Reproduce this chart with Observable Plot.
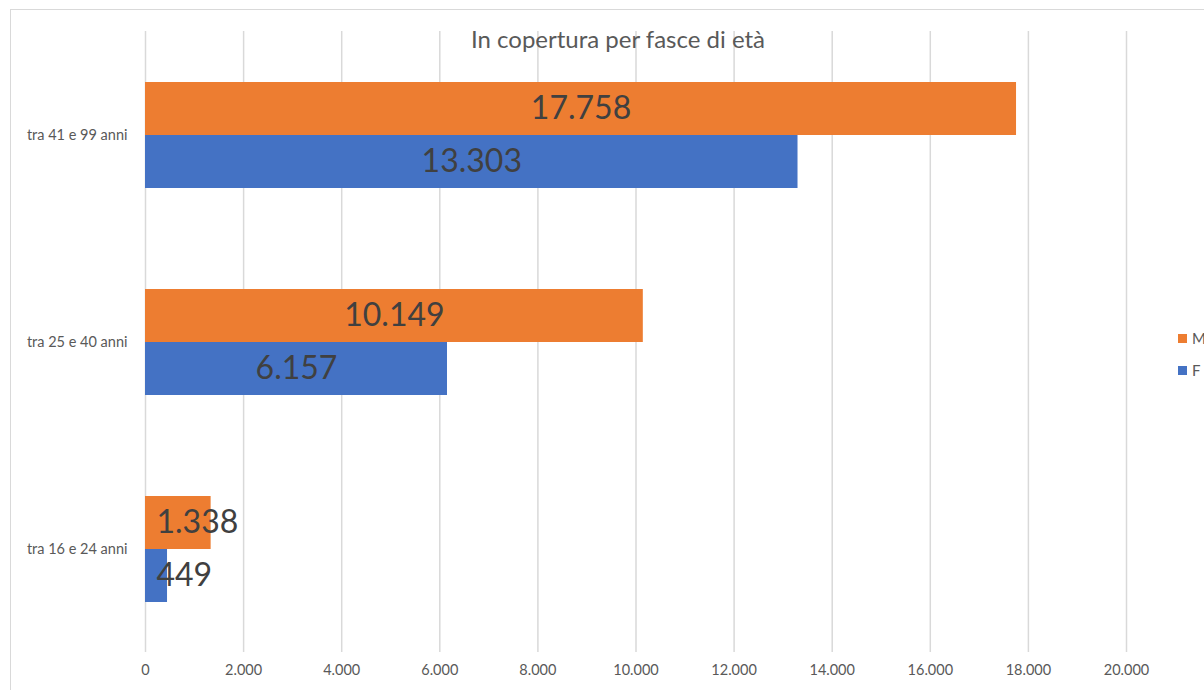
<!DOCTYPE html>
<html>
<head>
<meta charset="utf-8">
<script src="https://cdn.jsdelivr.net/npm/d3@7"></script>
<script src="https://cdn.jsdelivr.net/npm/@observablehq/plot@0.6"></script>
<style>
  html, body { margin: 0; padding: 0; background: #fff; overflow: hidden; }
  #wrap { position: relative; width: 1204px; height: 690px; font-family: Lato, "Open Sans", sans-serif; }
  #frame { position: absolute; left: 10px; top: 9px; width: 1300px; height: 800px; border-left: 1.5px solid #d9d9d9; border-top: 1.5px solid #d9d9d9; box-sizing: border-box; }
  #title { position: absolute; left: 0; width: 1236px; top: 25px; text-align: center; font-size: 24px; line-height: 28px; color: #595959; white-space: nowrap; }
  #legend { position: absolute; left: 1178px; top: 322px; font-size: 15px; color: #595959; }
  .li { display: flex; align-items: center; height: 32px; }
  .sw { width: 9px; height: 9px; margin-right: 5px; }
  #chart { position: absolute; left: 0; top: 0; }
</style>
</head>
<body>
<div id="wrap">
  <div id="chart"></div>
  <div id="frame"></div>
  <div id="title">In copertura per fasce di età</div>
  <div id="legend"></div>
</div>
<script>
const categories = ["tra 41 e 99 anni", "tra 25 e 40 anni", "tra 16 e 24 anni"];
const series = ["M", "F"];
const valuesM = [17758, 10149, 1338];
const valuesF = [13303, 6157, 449];
const xTicks = [0, 2000, 4000, 6000, 8000, 10000, 12000, 14000, 16000, 18000, 20000];
const colors = {M: "#ED7D31", F: "#4472C4"};

const it = d3.formatLocale({decimal: ",", thousands: ".", grouping: [3], currency: ["€", ""]});
const fmt = it.format(",");

const data = [];
categories.forEach((c, i) => {
  data.push({cat: c, sex: "M", value: valuesM[i]});
  data.push({cat: c, sex: "F", value: valuesF[i]});
});

const chart = Plot.plot({
  width: 1204,
  height: 690,
  marginLeft: 145,
  marginRight: 78,
  marginTop: 30,
  marginBottom: 37,
  style: {fontFamily: "Lato, 'Open Sans', sans-serif", fontSize: "14.5px", color: "#595959", background: "transparent"},
  x: {domain: [0, 20000], label: null},
  y: {domain: series, paddingInner: 0, paddingOuter: 0.93, axis: null},
  fy: {domain: categories, padding: 0, axis: null, label: null},
  color: {domain: series, range: series.map(s => colors[s])},
  marks: [
    Plot.gridX(xTicks, {stroke: "#d9d9d9", strokeOpacity: 1, strokeWidth: 1.5}),
    Plot.axisX(xTicks, {tickFormat: fmt, tickSize: 0, tickPadding: 12, fontSize: 14.5, fill: "#595959", label: null}),
    Plot.axisFy({anchor: "left", tickSize: 0, tickPadding: 18, fontSize: 14.5, fill: "#595959", label: null}),
    Plot.barX(data, {fy: "cat", y: "sex", x: "value", fill: "sex"}),
    Plot.text(data.filter(d => d.value >= 3000), {fy: "cat", y: "sex", x: d => d.value / 2, text: d => fmt(d.value), fontSize: 32, fill: "#404040", textAnchor: "middle"}),
    Plot.text(data.filter(d => d.value < 3000), {fy: "cat", y: "sex", x: 0, dx: 11, text: d => fmt(d.value), fontSize: 32, fill: "#404040", textAnchor: "start"})
  ]
});
document.getElementById("chart").appendChild(chart);

const legend = document.getElementById("legend");
series.forEach(s => {
  const row = document.createElement("div");
  row.className = "li";
  const sw = document.createElement("div");
  sw.className = "sw";
  sw.style.background = colors[s];
  const t = document.createElement("span");
  t.textContent = s;
  row.appendChild(sw);
  row.appendChild(t);
  legend.appendChild(row);
});
</script>
</body>
</html>
